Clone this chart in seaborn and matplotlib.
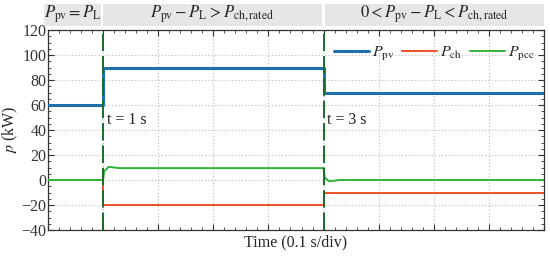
import numpy as np
import pandas as pd
import seaborn as sns
import matplotlib
matplotlib.use("Agg")
import matplotlib.pyplot as plt
from matplotlib.patches import Rectangle
from matplotlib.ticker import MultipleLocator
import matplotlib.transforms as mtransforms

# ---- data (x in divisions of 0.1 s) ----
t_pv = [0, 1, 1, 5, 5, 9]
p_pv = [60, 60, 90, 90, 70, 70]

t_ch = [0, 1, 1, 5, 5, 9]
p_ch = [0, 0, -20, -20, -10, -10]

t_pcc = [0, 1, 1.02, 1.1, 1.3, 5, 5.02, 5.1, 5.3, 9]
p_pcc = [0, 0, 7, 10.5, 9.5, 9.5, 2, -1, 0, 0]

series_names = ["$P_{\\mathrm{pv}}$", "$P_{\\mathrm{ch}}$", "$P_{\\mathrm{pcc}}$"]
colors = ["#1f6fad", "#f0502a", "#33b23a"]
widths = [2.2, 1.4, 1.4]

event_x = [1, 5]
event_labels = ["t = 1 s", "t = 3 s"]

header_spans = [(-0.07, 0.956), (1.003, 4.966), (5.026, 9.0)]
header_texts = ["$P_{\\mathrm{pv}}=P_{\\mathrm{L}}$",
                "$P_{\\mathrm{pv}}-P_{\\mathrm{L}}>P_{\\mathrm{ch,rated}}$",
                "$0<P_{\\mathrm{pv}}-P_{\\mathrm{L}}<P_{\\mathrm{ch,rated}}$"]

yticks = [-40, -20, 0, 20, 40, 60, 80, 100, 120]

sns.set_theme(style="ticks")
plt.rcParams["font.family"] = ["Liberation Serif", "DejaVu Serif"]
plt.rcParams["mathtext.fontset"] = "stix"
plt.rcParams["font.size"] = 11

df = pd.concat([
    pd.DataFrame({"t": t_pv, "p": p_pv, "s": series_names[0]}),
    pd.DataFrame({"t": t_ch, "p": p_ch, "s": series_names[1]}),
    pd.DataFrame({"t": t_pcc, "p": p_pcc, "s": series_names[2]}),
], ignore_index=True)

fig = plt.figure(figsize=(5.5, 2.59), dpi=100)
ax = fig.add_axes([48/550, 1-230/259, (544-48)/550, 200/259])

for name, c, w in zip(series_names, colors, widths):
    sub = df[df["s"] == name]
    sns.lineplot(data=sub, x="t", y="p", ax=ax, color=c, linewidth=w,
                 sort=False, estimator=None, label=name, zorder=3)

for xv, lab in zip(event_x, event_labels):
    ax.axvline(xv, color="#1d6b2a", linestyle=(0, (9, 2.5)), linewidth=1.4, zorder=4)
    ax.text(xv + 0.07, 48, lab, fontsize=11.5, ha="left", va="center",
            color="#222222", zorder=5)

ax.set_xlim(0, 9)
ax.set_ylim(-40, 120)
ax.set_yticks(yticks)
ax.xaxis.set_major_locator(MultipleLocator(1))
ax.xaxis.set_minor_locator(MultipleLocator(0.2))
ax.yaxis.set_minor_locator(MultipleLocator(5))
ax.set_xticklabels([])
ax.tick_params(which="both", direction="in", top=True, right=True,
               labelsize=11.5, colors="#333333", pad=1)
ax.tick_params(which="major", length=4, width=0.8)
ax.tick_params(which="minor", length=2, width=0.6)
ax.grid(True, which="major", linestyle=(0, (1, 2)), color="#bbbbbb", linewidth=0.8)
for sp in ax.spines.values():
    sp.set_color("#333333")
    sp.set_linewidth(0.9)

ax.set_xlabel("Time (0.1 s/div)", fontsize=11.5, labelpad=2)
ax.set_ylabel("$p$ (kW)", fontsize=11.5, labelpad=1)

trans = mtransforms.blended_transform_factory(ax.transData, ax.transAxes)
for (x0, x1), txt in zip(header_spans, header_texts):
    r = Rectangle((x0, 1.0215), x1 - x0, 0.11, transform=trans,
                  facecolor="#e6e6e6", edgecolor="none", clip_on=False)
    ax.add_patch(r)
    ax.text((x0 + x1) / 2, 1.0765, txt, transform=trans, ha="center",
            va="center", fontsize=12, clip_on=False)

ax.legend(loc="upper right", ncol=3, frameon=False, fontsize=11.5,
          handlelength=2.2, columnspacing=0.5, handletextpad=0.15,
          bbox_to_anchor=(1.0, 0.975), borderaxespad=0.2)

fig.savefig("out.png", dpi=100)
